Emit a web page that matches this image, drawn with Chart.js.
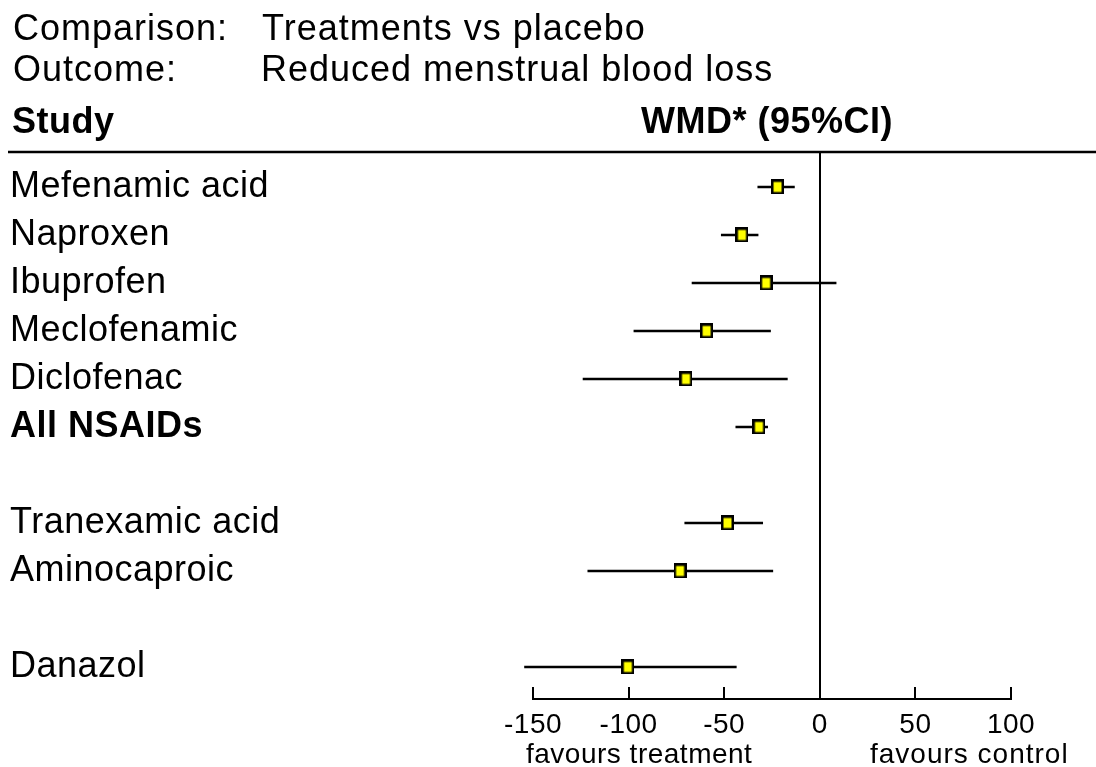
<!DOCTYPE html>
<html>
<head>
<meta charset="utf-8">
<script src="https://cdn.jsdelivr.net/npm/chart.js@4.4.1/dist/chart.umd.min.js"></script>
<style>
  html, body { margin: 0; padding: 0; background: #ffffff; }
  #wrap { width: 1096px; height: 767px; }
</style>
</head>
<body>
<div id="wrap"><canvas id="c" width="1096" height="767"></canvas></div>
<script>
// ---- data ----
const studies = ['Mefenamic acid', 'Naproxen', 'Ibuprofen', 'Meclofenamic', 'Diclofenac', 'All NSAIDs', '', 'Tranexamic acid', 'Aminocaproic', '', 'Danazol'];
const pooledRows = ['All NSAIDs'];
const wmd   = [-22.1, -40.7, -28.1, -59.2, -70.0, -31.8, null, -48.3, -73.1, null, -100.4];
const lower = [-32.6, -51.7, -67.0, -97.4, -124.0, -44.1, null, -70.8, -121.5, null, -154.6];
const upper = [-13.1, -32.1,   8.7, -25.6,  -16.8, -27.1, null, -29.7, -24.4, null,  -43.5];
const xTicks = [-150, -100, -50, 0, 50, 100];
const titleLines = [['Comparison:', 'Treatments vs placebo'], ['Outcome:', 'Reduced menstrual blood loss']];
const columnHeads = ['Study', 'WMD* (95%CI)'];
const sideNotes = ['favours treatment', 'favours control'];

const FONT = '"Liberation Sans", Arial, Helvetica, sans-serif';

// marker image
const marker = document.createElement('canvas');
marker.width = 13; marker.height = 15;
(function () {
  const m = marker.getContext('2d');
  m.fillStyle = '#ffff00';
  m.fillRect(0, 0, 13, 15);
  m.strokeStyle = '#000000';
  m.lineWidth = 2.5;
  m.strokeRect(1.25, 1.25, 10.5, 12.5);
})();

const pointData = [];
const ciData = [];
studies.forEach((s, i) => {
  if (wmd[i] === null) return;
  pointData.push({ x: wmd[i], y: i });
  ciData.push({ x: lower[i], y: i }, { x: upper[i], y: i }, { x: null, y: null });
});

const spacing = {
  id: 'spacing',
  beforeDraw(chart) { chart.ctx.letterSpacing = '0.5px'; }
};

const decor = {
  id: 'decor',
  afterDraw(chart) {
    const ctx = chart.ctx;
    ctx.save();
    ctx.fillStyle = '#000';
    ctx.textBaseline = 'alphabetic';
    ctx.textAlign = 'left';
    ctx.letterSpacing = '1px';
    ctx.font = '36px ' + FONT;
    ctx.fillText(titleLines[0][0], 13, 40);
    ctx.fillText(titleLines[0][1], 262, 40);
    ctx.fillText(titleLines[1][0], 13, 81);
    ctx.fillText(titleLines[1][1], 261, 81);
    ctx.letterSpacing = '0.5px';
    ctx.font = 'bold 36px ' + FONT;
    ctx.fillText(columnHeads[0], 12, 133);
    ctx.fillText(columnHeads[1], 641, 133);
    ctx.strokeStyle = '#000';
    ctx.lineWidth = 2.5;
    ctx.beginPath();
    ctx.moveTo(8, 152);
    ctx.lineTo(1096, 152);
    ctx.stroke();
    ctx.font = '28px ' + FONT;
    ctx.letterSpacing = '0.5px';
    ctx.fillText(sideNotes[0], 526, 763);
    ctx.letterSpacing = '1px';
    ctx.fillText(sideNotes[1], 870, 763);
    ctx.restore();
    ctx.letterSpacing = '0px';
  }
};

new Chart(document.getElementById('c'), {
  type: 'scatter',
  data: {
    datasets: [
      {
        data: pointData,
        pointStyle: marker,
        pointRadius: 7,
        pointHoverRadius: 7,
        showLine: false,
        clip: false
      },
      {
        data: ciData,
        showLine: true,
        borderColor: '#000',
        borderWidth: 2.5,
        pointRadius: 0,
        pointHoverRadius: 0,
        spanGaps: false,
        clip: false
      }
    ]
  },
  options: {
    responsive: false,
    animation: false,
    events: [],
    layout: { padding: { left: 10, right: 85, top: 153, bottom: 0 } },
    plugins: { legend: { display: false }, tooltip: { enabled: false }, title: { display: false } },
    scales: {
      x: {
        type: 'linear',
        min: xTicks[0],
        max: xTicks[xTicks.length - 1],
        afterBuildTicks(scale) { scale.ticks = xTicks.map(v => ({ value: v })); },
        afterFit(scale) { scale.height = 68; },
        grid: {
          display: true,
          drawOnChartArea: true,
          color: (c) => (c.tick && c.tick.value === 0 ? '#000' : 'rgba(0,0,0,0)'),
          lineWidth: 2,
          drawTicks: true,
          tickLength: -12,
          tickColor: '#000',
          tickWidth: 2
        },
        border: { display: true, color: '#000', width: 2 },
        ticks: {
          color: '#000',
          padding: 21,
          maxRotation: 0,
          autoSkip: false,
          font: { family: FONT, size: 28 }
        }
      },
      y: {
        type: 'linear',
        reverse: true,
        min: -0.708,
        max: 10.667,
        afterBuildTicks(scale) { scale.ticks = studies.map((s, i) => ({ value: i })); },
        afterFit(scale) { scale.width = 523; },
        grid: { display: false },
        border: { display: false },
        ticks: {
          color: '#000',
          crossAlign: 'far',
          autoSkip: false,
          callback: (v) => studies[v] || '',
          font: (c) => ({
            family: FONT,
            size: 36,
            weight: (c.tick && pooledRows.includes(studies[c.tick.value])) ? 'bold' : 'normal'
          })
        }
      }
    }
  },
  plugins: [spacing, decor]
});
</script>
</body>
</html>
